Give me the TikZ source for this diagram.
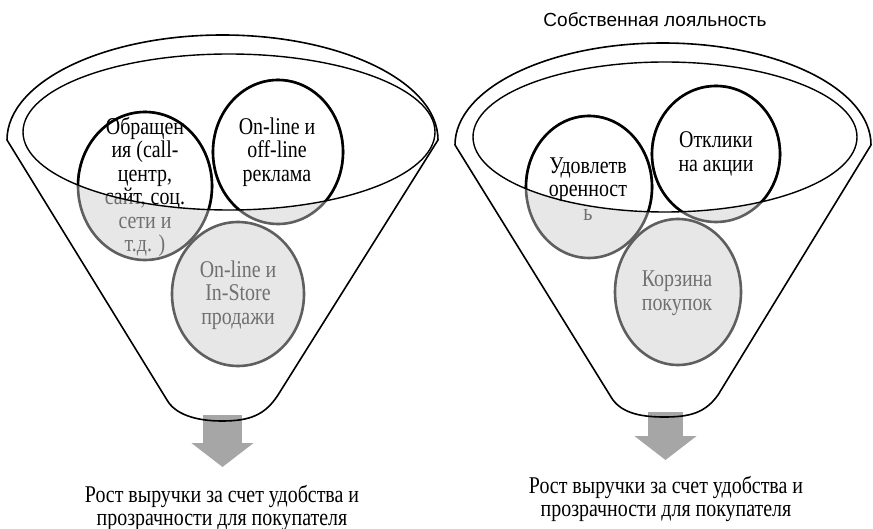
\documentclass[tikz,border=0pt]{standalone}
\usepackage{fontspec}
\setmainfont{Liberation Serif}[FakeStretch=0.83]
\newfontfamily\headfont{Liberation Sans}
\usepackage{xcolor}
\usepackage{tikz}
\usetikzlibrary{arrows.meta}

\definecolor{bubblefill}{HTML}{E7E7E7}
\definecolor{bubbleline}{HTML}{5F5F5F}
\definecolor{bubbletext}{HTML}{707070}
\definecolor{arrowgray}{HTML}{A6A6A6}

\tikzset{
    funnel/.style={line width=1.6pt, line join=round},
    rim/.style={line width=1.4pt},
    bubble/.style={line width=2.6pt, draw=bubbleline, fill=bubblefill},
    bubblein/.style={line width=2.6pt, draw=black, fill=white},
    bubtext/.style={align=center, inner sep=0pt, font=\fontsize{24}{23.5}\selectfont},
    captext/.style={align=center, inner sep=0pt, font=\fontsize{24}{23}\selectfont},
    bigarrow/.style={arrowgray, line width=#1, -{Triangle[length=24pt, width=61pt]}}
}

\begin{document}
\begin{tikzpicture}[x=1pt,y=-1pt]
    \useasboundingbox (0,0) rectangle (873,529);

    % Arrows out of the funnels
    \coordinate (fl-bot) at (222.5,415);
    \coordinate (fl-tip) at (222.5,467);
    \coordinate (fr-bot) at (665.5,412);
    \coordinate (fr-tip) at (665.5,460);
    \draw[bigarrow=39pt] (fl-bot) -- (fl-tip);
    \draw[bigarrow=35pt] (fr-bot) -- (fr-tip);

    % Funnel outlines
    \draw[funnel] (7,140) arc[start angle=180, end angle=360, x radius=215.5, y radius=105]
        -- (278,395) .. controls (265,415) and (250,421) .. (222,421)
        .. controls (195,421) and (175,414) .. (167,400) -- cycle;
    \draw[funnel] (455,145) arc[start angle=180, end angle=360, x radius=208, y radius=102]
        -- (718,395) .. controls (705,413) and (690,417) .. (664,417)
        .. controls (638,417) and (620,412) .. (611,397) -- cycle;

    % Bubbles, lower part (grey)
    \draw[bubble] (145,186) ellipse[x radius=67, y radius=74];
    \draw[bubble] (278,152) ellipse[x radius=65, y radius=72];
    \draw[bubble] (238,294) ellipse[x radius=66, y radius=72];
    \draw[bubble] (589,187) ellipse[x radius=63, y radius=71];
    \draw[bubble] (716,154) ellipse[x radius=64, y radius=68];
    \draw[bubble] (678,292) ellipse[x radius=63, y radius=73];

    \node[bubtext, text=bubbletext] (obr) at (145,187) {Обращен\\ия (call-\\центр,\\сайт, соц.\\сети и\\т.д. )};
    \node[bubtext, text=bubbletext] (rek) at (277,152) {On-line и\\off-line\\реклама};
    \node[bubtext, text=bubbletext] (prod) at (238,295) {On-line и\\In-Store\\продажи};
    \node[bubtext, text=bubbletext] (udov) at (588,189) {Удовлетв\\оренност\\ь};
    \node[bubtext, text=bubbletext] (otkl) at (716,154) {Отклики\\на акции};
    \node[bubtext, text=bubbletext] (korz) at (677,293) {Корзина\\покупок};

    % Upper part, inside the rims
    \begin{scope}
        \clip (229,132) ellipse[x radius=206, y radius=78];
        \draw[bubblein] (145,186) ellipse[x radius=67, y radius=74];
        \draw[bubblein] (278,152) ellipse[x radius=65, y radius=72];
        \node[bubtext] (obr-in) at (145,187) {Обращен\\ия (call-\\центр,\\сайт, соц.\\сети и\\т.д. )};
        \node[bubtext] (rek-in) at (277,152) {On-line и\\off-line\\реклама};
    \end{scope}
    \begin{scope}
        \clip (665,137) ellipse[x radius=192, y radius=75];
        \draw[bubblein] (589,187) ellipse[x radius=63, y radius=71];
        \draw[bubblein] (716,154) ellipse[x radius=64, y radius=68];
        \node[bubtext] (udov-in) at (588,189) {Удовлетв\\оренност\\ь};
        \node[bubtext] (otkl-in) at (716,154) {Отклики\\на акции};
    \end{scope}

    % Rims
    \draw[rim] (229,132) ellipse[x radius=206, y radius=78];
    \draw[rim] (665,137) ellipse[x radius=192, y radius=75];

    % Labels
    \node[font=\headfont\fontsize{19}{22}\selectfont] (title) at (655,20) {Собственная лояльность};
    \node[captext] (res-l) at (222,508) {Рост выручки за счет удобства и\\прозрачности для покупателя};
    \node[captext] (res-r) at (666,499) {Рост выручки за счет удобства и\\прозрачности для покупателя};
\end{tikzpicture}
\end{document}
